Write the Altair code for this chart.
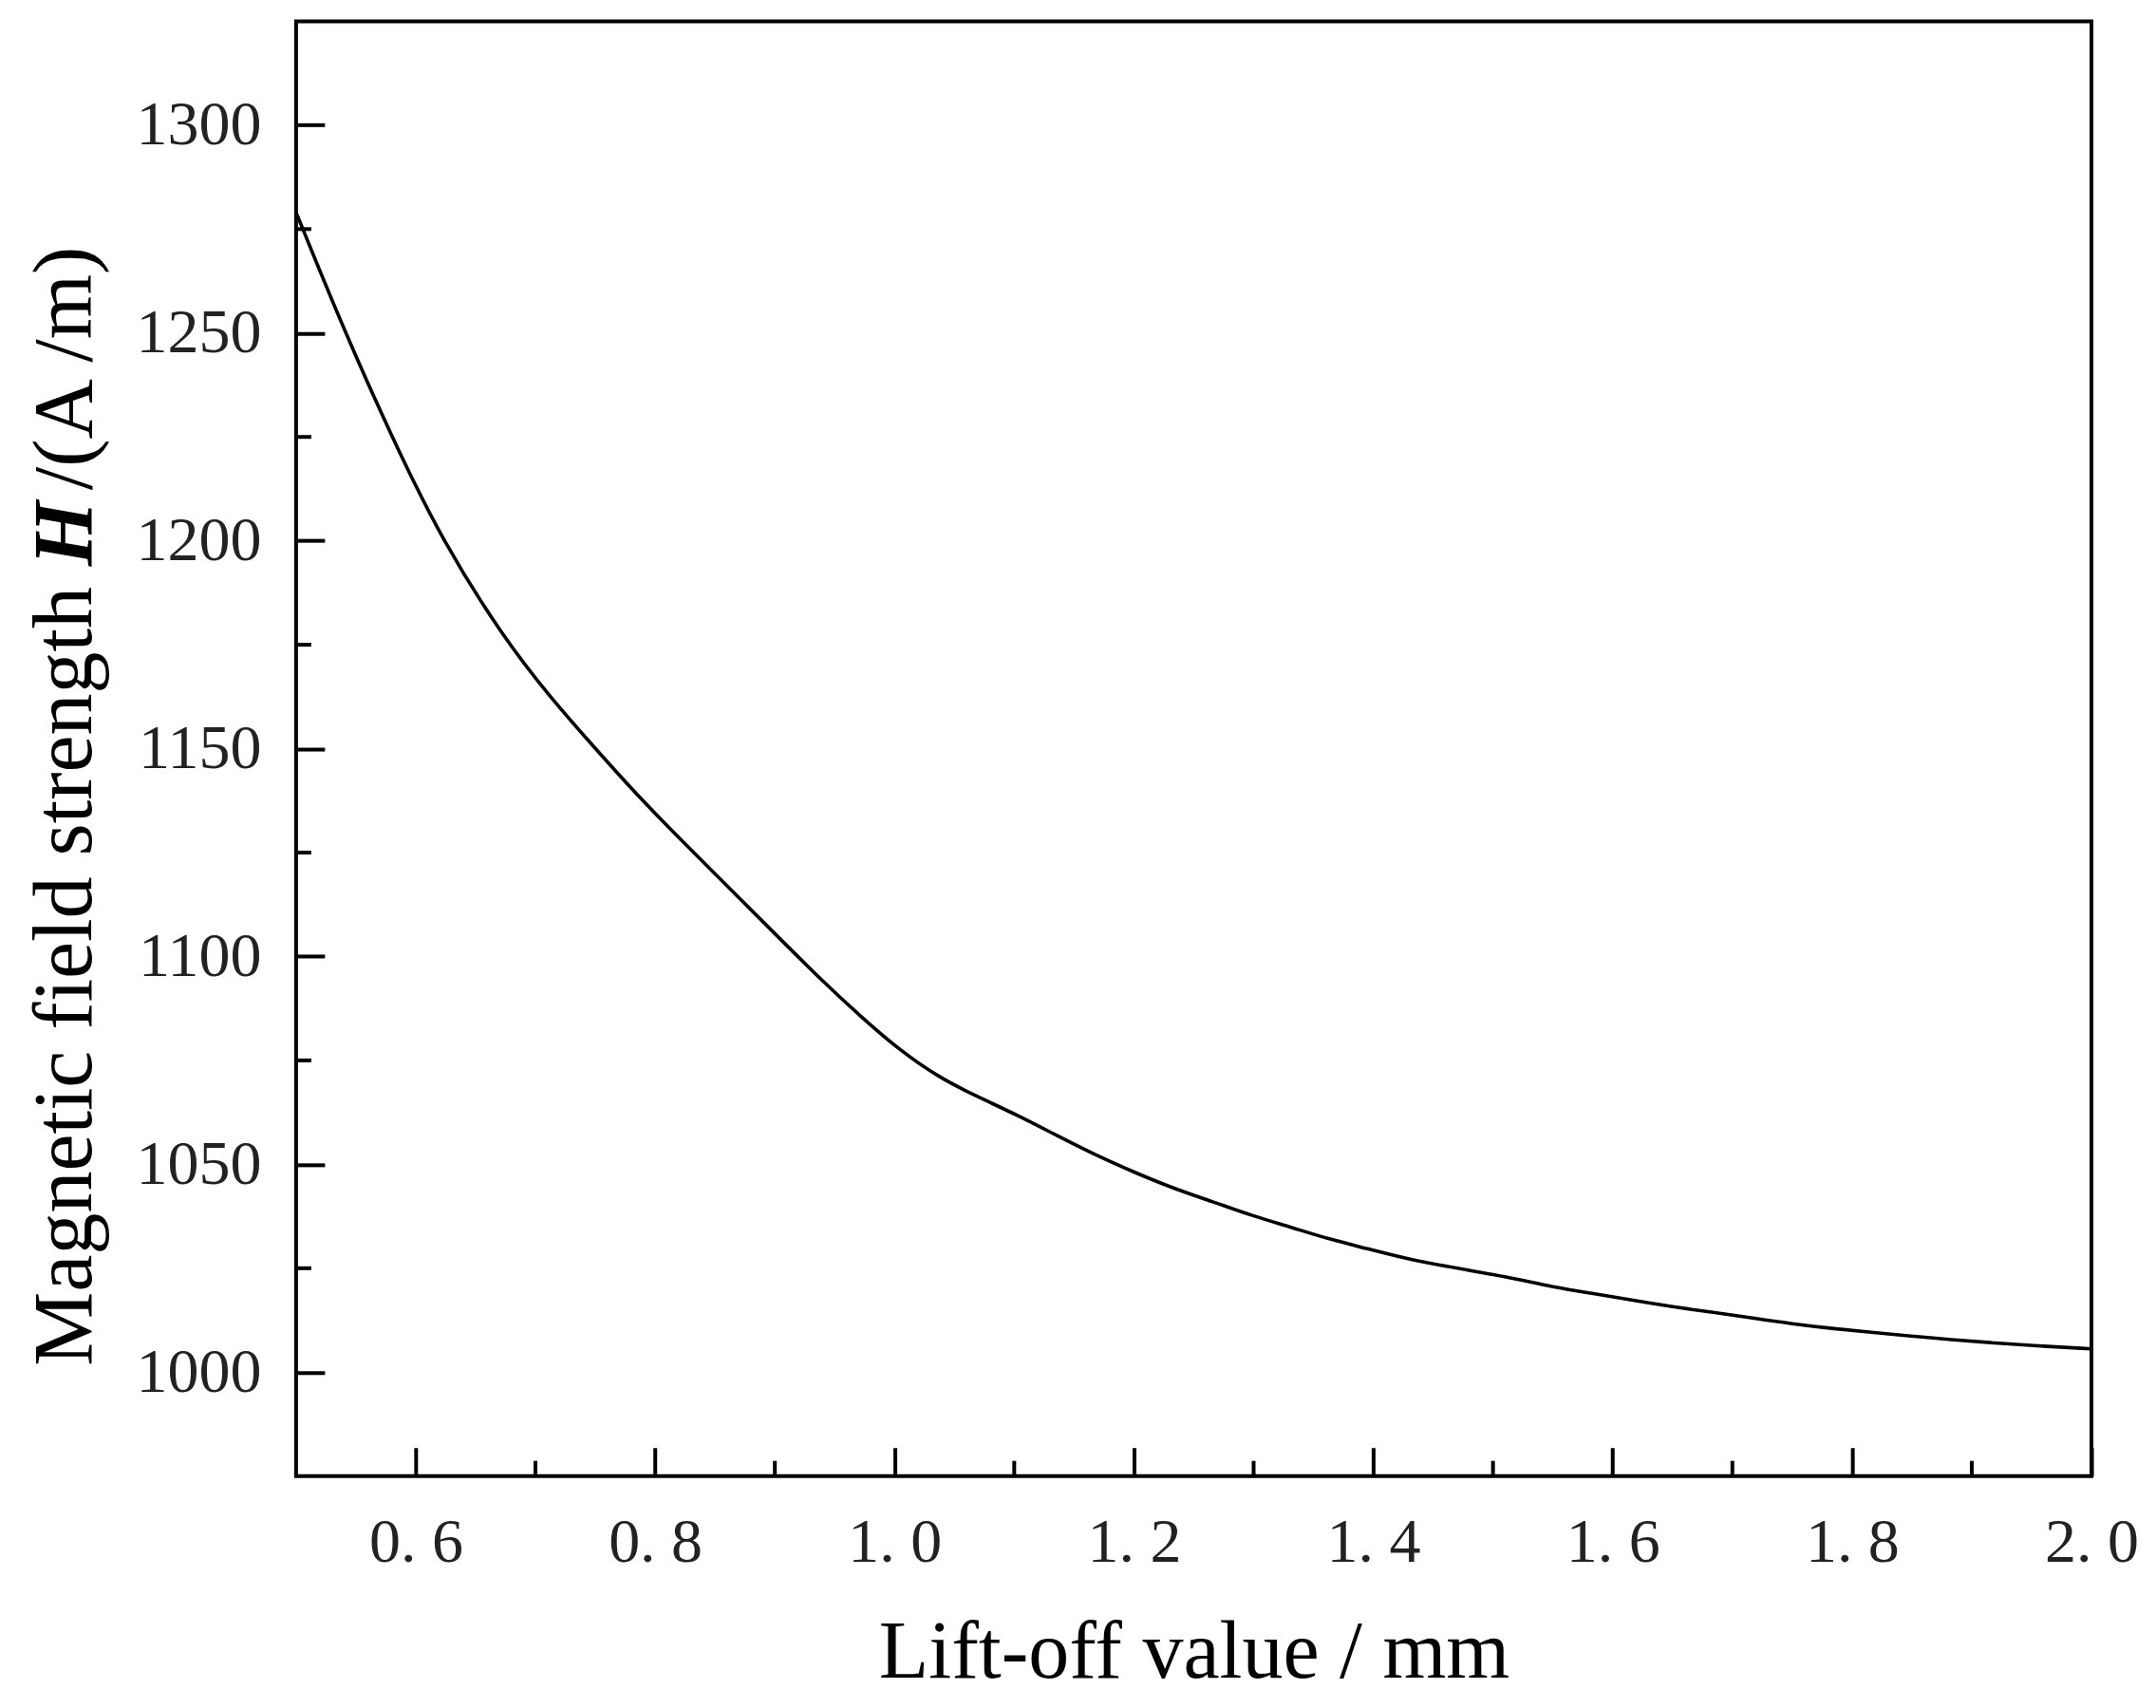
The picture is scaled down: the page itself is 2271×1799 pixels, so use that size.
import altair as alt
import pandas as pd

# ---- data ----
lift_off = [0.50, 0.541, 0.580, 0.622, 0.675, 0.712, 0.750, 0.786, 0.82, 0.86, 0.90, 0.94,
            0.972, 1.004, 1.037, 1.069, 1.103, 1.135, 1.168, 1.200, 1.233, 1.266,
            1.299, 1.331, 1.364, 1.397, 1.429, 1.482, 1.517, 1.550, 1.584, 1.617,
            1.650, 1.684, 1.717, 1.750, 1.783, 1.816, 1.849, 1.883, 1.916, 1.949, 2.00]
field_h = [1279, 1250, 1225, 1200, 1176, 1162.5, 1150, 1138.5, 1128.5, 1117, 1105.5, 1094,
           1085.5, 1077.5, 1070.9, 1066.3, 1061.8, 1057.0, 1052.2, 1048.1, 1044.2, 1041.0,
           1037.6, 1034.9, 1031.9, 1029.6, 1027.1, 1024.4, 1022.6, 1020.5, 1018.9, 1017.3,
           1015.7, 1014.4, 1013.0, 1011.6, 1010.5, 1009.6, 1008.7, 1007.8, 1007.1, 1006.4, 1005.6]

x_major = [0.6, 0.8, 1.0, 1.2, 1.4, 1.6, 1.8, 2.0]
x_minor = [0.7, 0.9, 1.1, 1.3, 1.5, 1.7, 1.9]
y_major = [1000, 1050, 1100, 1150, 1200, 1250, 1300]
y_minor = [1025, 1075, 1125, 1175, 1225, 1275]
x_domain = [0.5, 2.0]
y_domain = [975, 1325]

x_title = "Lift-off value / mm"
y_title_parts = ["Magnetic field strength", "H", "/(A /m)"]

W, H = 1892, 1533
FONT = "Liberation Serif"
MAJ, MIN = 30, 16

xscale = alt.Scale(domain=x_domain, nice=False, zero=False)
yscale = alt.Scale(domain=y_domain, nice=False, zero=False)

x_axis = alt.Axis(
    values=x_major, title=x_title, offset=-MAJ, tickSize=MAJ, tickWidth=4,
    tickColor="black", domain=False, grid=False, labelFlush=False,
    labelFont=FONT, labelFontSize=66, labelPadding=38, labelColor="#222",
    labelExpr="replace(format(datum.value, '.1f'), '.', '. ')",
    titleFont=FONT, titleFontSize=86, titleFontWeight="normal", titleColor="black",
    titleBaseline="alphabetic", titleY=242)
y_axis = alt.Axis(
    values=y_major, title=None, offset=-MAJ, tickSize=MAJ, tickWidth=4,
    tickColor="black", domain=False, grid=False, format="d",
    labelFont=FONT, labelFontSize=66, labelPadding=37, labelColor="#222")

df = pd.DataFrame({"x": lift_off, "y": field_h})

line = alt.Chart(df).mark_line(color="black", strokeWidth=3.6, interpolate="basis").encode(
    x=alt.X("x:Q", scale=xscale, axis=x_axis),
    y=alt.Y("y:Q", scale=yscale, axis=y_axis),
)

xm = alt.Chart(pd.DataFrame({"x": x_minor})).mark_rule(color="black", strokeWidth=4).encode(
    x=alt.X("x:Q", scale=xscale, axis=x_axis),
    y=alt.value(H), y2=alt.value(H - MIN),
)
ym = alt.Chart(pd.DataFrame({"y": y_minor})).mark_rule(color="black", strokeWidth=4).encode(
    y=alt.Y("y:Q", scale=yscale, axis=y_axis),
    x=alt.value(0), x2=alt.value(MIN),
)

TX = -216
t1 = alt.Chart(pd.DataFrame({"t": [y_title_parts[0]]})).mark_text(
    angle=270, align="right", baseline="alphabetic", font=FONT, fontSize=88, color="black"
).encode(text="t:N", x=alt.value(TX), y=alt.value(596))
t2 = alt.Chart(pd.DataFrame({"t": [y_title_parts[1]]})).mark_text(
    angle=270, align="left", baseline="alphabetic", font=FONT, fontSize=88, color="black",
    fontStyle="italic", fontWeight="bold"
).encode(text="t:N", x=alt.value(TX), y=alt.value(574))
t3 = alt.Chart(pd.DataFrame({"t": [y_title_parts[2]]})).mark_text(
    angle=270, align="left", baseline="alphabetic", font=FONT, fontSize=88, color="black"
).encode(text="t:N", x=alt.value(TX), y=alt.value(494))

chart = alt.layer(line, xm, ym, t1, t2, t3).properties(
    width=W, height=H,
    padding={"left": 18, "top": 14, "right": 10, "bottom": 5},
    background="white",
).configure_view(stroke="black", strokeWidth=4)

chart.save("out.html", embed_options={"renderer": "svg", "actions": False})
